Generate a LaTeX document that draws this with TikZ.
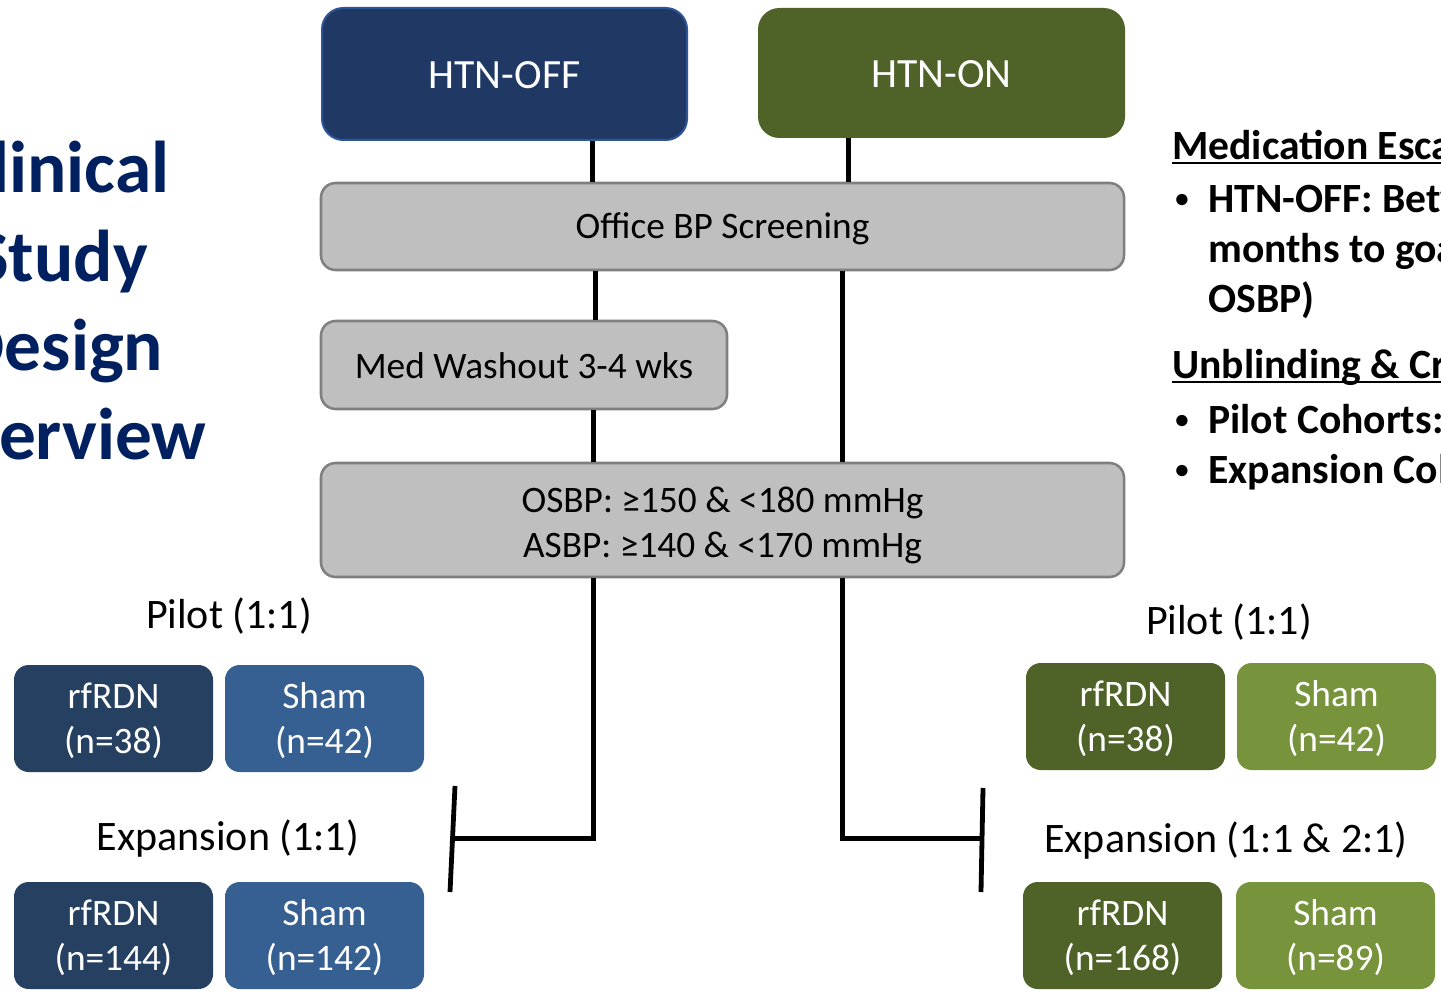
\documentclass[tikz,border=0pt]{standalone}
\usepackage{fontspec}
\setmainfont{Carlito}
\usetikzlibrary{calc}
\definecolor{offblue}{HTML}{203864}
\definecolor{offborder}{HTML}{2F5597}
\definecolor{ongreen}{HTML}{4F6228}
\definecolor{grayfill}{HTML}{BFBFBF}
\definecolor{grayline}{HTML}{7F7F7F}
\definecolor{darkarm}{HTML}{254061}
\definecolor{lightarm}{HTML}{376092}
\definecolor{darkgreen}{HTML}{4F6228}
\definecolor{lightgreen}{HTML}{77933C}
\definecolor{titleblue}{HTML}{002060}
\begin{document}
\begin{tikzpicture}[x=0.75pt,y=-0.75pt,
  htnbox/.style={rectangle, rounded corners=16pt, inner sep=0pt, text=white,
    text height=21.75pt, text depth=0pt,
    font=\fontsize{31.2}{37}\selectfont},
  graybox/.style={rectangle, rounded corners=11pt, inner sep=0pt, fill=grayfill,
    draw=grayline, line width=1.9pt, align=center, font=\fontsize{28}{33.75}\selectfont},
  armbox/.style={rectangle, rounded corners=11pt, inner sep=0pt, text=white, align=center,
    minimum width={199*0.75pt}, minimum height={107*0.75pt},
    text height=51.75pt, text depth=0pt,
    font=\fontsize{28}{33.75}\selectfont},
  armlabel/.style={anchor=base, inner sep=0pt, font=\fontsize{31.5}{37.8}\selectfont},
  titleline/.style={anchor=base, inner sep=0pt, text=titleblue,
    font=\fontsize{55}{66}\selectfont\bfseries},
  sideline/.style={anchor=base west, inner sep=0pt, font=\fontsize{31.2}{37}\selectfont\bfseries},
  bulletmark/.style={anchor=base west, inner sep=0pt, font=\fontsize{20}{24}\selectfont\bfseries},
  flowline/.style={line width=3.75pt, black},
  barline/.style={line width=3.6pt, black},
  uline/.style={line width=1.8pt, black}]
\path[use as bounding box, clip] (0,0) rectangle (1441,995);
\fill[white] (0,0) rectangle (1441,995);

% title (cut at left edge)
\node[titleline] (t1) at (61,192) {Clinical};
\node[titleline] (t2) at (61,281) {Study};
\node[titleline] (t3) at (61,370) {Design};
\node[titleline] (t4) at (61,459) {Overview};

% top boxes
\node[htnbox, fill=offblue, draw=offborder, line width=1.5pt,
  minimum width={365*0.75pt}, minimum height={132*0.75pt}] (off) at (504.5,74) {HTN-OFF};
\node[htnbox, fill=ongreen,
  minimum width={367*0.75pt}, minimum height={130*0.75pt}] (on) at (941.5,73) {HTN-ON};

% gray boxes
\node[graybox, text height=17.25pt, text depth=0pt,
  minimum width={803*0.75pt}, minimum height={87*0.75pt}] (screen) at (722.5,226.5) {Office BP Screening};
\node[graybox, text height=19.5pt, text depth=0pt,
  minimum width={406*0.75pt}, minimum height={88*0.75pt}] (wash) at (524,365) {Med Washout 3-4 wks};
\node[graybox, text height=55.5pt, text depth=0pt,
  minimum width={803*0.75pt}, minimum height={114*0.75pt}] (crit) at (722.5,520)
  {OSBP: ≥150 \& <180 mmHg\\ASBP: ≥140 \& <170 mmHg};

% connector x positions
\coordinate (xa) at (592,0);
\coordinate (xb) at (595,0);
\coordinate (xc) at (593,0);
\coordinate (xd) at (848,0);
\coordinate (xe) at (842,0);
\coordinate (lbar) at (453,838);
\coordinate (rbar) at (982,838);
\coordinate (lbarT) at (455,786);
\coordinate (lbarB) at (450,892);
\coordinate (rbarT) at (983,788);
\coordinate (rbarB) at (981,892);

\draw[flowline] (off.south -| xa) -- (screen.north -| xa);
\draw[flowline] (screen.south -| xb) -- (wash.north -| xb);
\draw[flowline] (wash.south -| xc) -- (crit.north -| xc);
\draw[flowline] (crit.south -| xc) |- (lbar);
\draw[flowline] (on.south -| xd) -- (screen.north -| xd);
\draw[flowline] (screen.south -| xe) -- (crit.north -| xe);
\draw[flowline] (crit.south -| xe) |- (rbar);
\draw[barline] (lbarT) -- (lbarB);
\draw[barline] (rbarT) -- (rbarB);

% left arms
\node[armlabel] (lpl) at (229,628) {Pilot (1:1)};
\node[armbox, fill=darkarm] (lpr) at (113.5,718.5) {rfRDN\\(n=38)};
\node[armbox, fill=lightarm] (lps) at (324.5,718.5) {Sham\\(n=42)};
\node[armlabel] (lel) at (228,850) {Expansion (1:1)};
\node[armbox, fill=darkarm] (ler) at (113.5,935.5) {rfRDN\\(n=144)};
\node[armbox, fill=lightarm] (les) at (324.5,935.5) {Sham\\(n=142)};

% right arms
\node[armlabel] (rpl) at (1229,634) {Pilot (1:1)};
\node[armbox, fill=darkgreen] (rpr) at (1125.5,716.5) {rfRDN\\(n=38)};
\node[armbox, fill=lightgreen] (rps) at (1336.5,716.5) {Sham\\(n=42)};
\node[armlabel] (rel) at (1226,852) {Expansion (1:1 \& 2:1)};
\node[armbox, fill=darkgreen] (rer) at (1122.5,935.5) {rfRDN\\(n=168)};
\node[armbox, fill=lightgreen] (res) at (1335.5,935.5) {Sham\\(n=89)};

% right side text (cut at right edge)
\node[sideline] (h1) at (1172,160) {Medication Escalation};
\draw[uline] ($(h1.base west)+(0,3)$) -- ($(h1.base east)+(0,3)$);
\node[bulletmark] (b1) at (1175,207) {•};
\node[sideline] (s1) at (1208,212) {HTN-OFF: Between};
\node[sideline] (s2) at (1208,262) {months to goal};
\node[sideline] (s3) at (1208,312) {OSBP)};
\node[sideline] (h2) at (1172,378) {Unblinding \& Crossover};
\draw[uline] ($(h2.base west)+(0,4)$) -- ($(h2.base east)+(0,4)$);
\node[bulletmark] (b2) at (1175,428) {•};
\node[sideline] (s4) at (1208,433) {Pilot Cohorts:};
\node[bulletmark] (b3) at (1175,478) {•};
\node[sideline] (s5) at (1208,483) {Expansion Cohorts:};
\end{tikzpicture}
\end{document}
